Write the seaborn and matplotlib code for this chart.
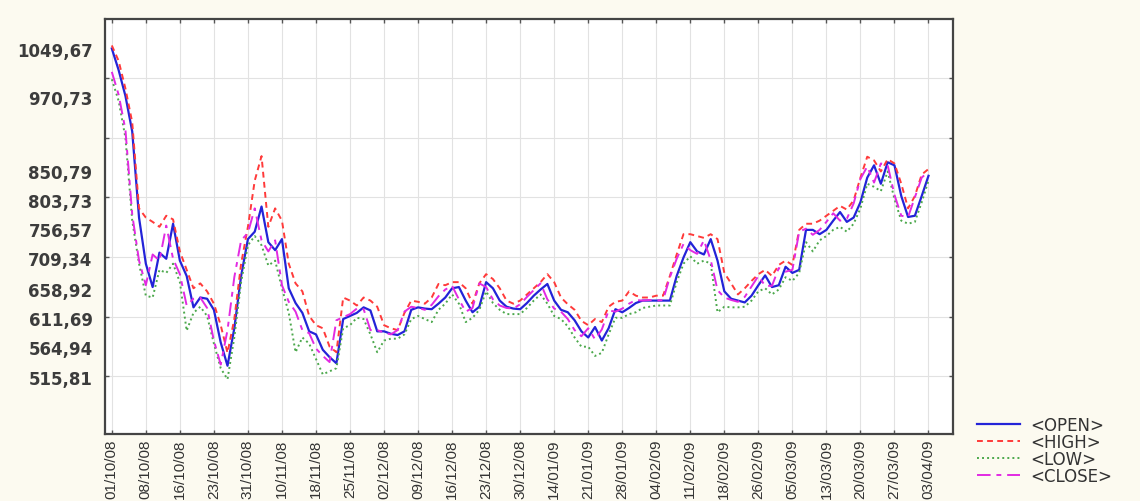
import matplotlib
matplotlib.use("Agg")
import matplotlib.pyplot as plt
import seaborn as sns
import pandas as pd
import numpy as np

# ---------------- data ----------------
open_vals = [1050, 1015, 973, 915, 775, 700, 662, 718, 708, 765,
             705, 680, 629, 645, 643, 625, 572, 534, 595, 680,
             740, 752, 793, 735, 722, 740, 660, 636, 620, 590,
             585, 560, 548, 538, 610, 615, 620, 629, 624, 590,
             590, 586, 584, 590, 625, 629, 627, 626, 635, 645,
             660, 662, 640, 621, 630, 670, 660, 640, 630, 627,
             626, 636, 648, 658, 667, 640, 625, 621, 608, 590,
             580, 597, 575, 595, 626, 621, 628, 636, 640, 640,
             640, 640, 640, 680, 710, 735, 720, 715, 740, 705,
             655, 643, 640, 637, 648, 665, 681, 662, 665, 695,
             685, 690, 755, 755, 748, 755, 770, 784, 768, 775,
             800, 840, 860, 830, 865, 860, 810, 776, 778, 810,
             843]

high_vals = [1055, 1030, 985, 930, 790, 775, 768, 760, 778, 772,
             720, 690, 660, 668, 655, 635, 600, 555, 610, 700,
             760, 835, 875, 760, 790, 770, 700, 668, 655, 615,
             600, 595, 565, 556, 645, 640, 632, 645, 640, 630,
             600, 595, 592, 620, 640, 638, 635, 645, 667, 665,
             670, 670, 660, 635, 668, 683, 675, 660, 640, 635,
             640, 650, 660, 670, 683, 670, 645, 634, 625, 607,
             600, 610, 605, 630, 638, 640, 655, 648, 645, 645,
             648, 648, 680, 715, 748, 748, 745, 742, 748, 740,
             685, 668, 650, 660, 672, 683, 690, 680, 698, 705,
             698, 755, 765, 765, 770, 778, 786, 794, 788, 803,
             840, 874, 868, 850, 870, 863, 830, 790, 810, 845,
             854]

low_vals = [1000, 965, 905, 770, 700, 648, 645, 690, 685, 700,
            670, 591, 620, 630, 615, 570, 530, 512, 580, 670,
            730, 745, 730, 697, 705, 660, 620, 556, 580, 570,
            545, 520, 525, 530, 595, 600, 612, 610, 585, 556,
            575, 578, 578, 585, 610, 615, 610, 605, 625, 635,
            650, 635, 605, 612, 625, 655, 636, 625, 618, 618,
            618, 628, 640, 650, 635, 615, 610, 598, 580, 565,
            565, 550, 555, 585, 612, 612, 618, 621, 628, 630,
            632, 632, 632, 670, 700, 712, 700, 705, 700, 621,
            630, 629, 629, 630, 640, 655, 660, 650, 658, 678,
            672, 685, 735, 720, 738, 745, 755, 760, 752, 765,
            790, 830, 825, 818, 850, 805, 770, 765, 768, 800,
            835]

close_vals = [1012, 975, 918, 780, 705, 665, 715, 705, 762, 708,
              683, 632, 643, 645, 628, 575, 536, 592, 678, 738,
              750, 790, 738, 720, 738, 665, 638, 622, 592, 587,
              562, 550, 540, 608, 613, 618, 627, 626, 592, 592,
              588, 585, 592, 622, 630, 628, 625, 633, 647, 658,
              664, 642, 622, 628, 668, 662, 642, 632, 628, 627,
              634, 646, 657, 668, 642, 627, 622, 610, 592, 582,
              595, 577, 593, 624, 622, 627, 635, 641, 640, 641,
              640, 641, 678, 708, 732, 722, 716, 738, 706, 657,
              645, 641, 638, 646, 663, 680, 664, 664, 693, 687,
              690, 752, 757, 747, 755, 768, 782, 770, 773, 798,
              838, 858, 832, 863, 860, 812, 778, 776, 808, 840,
              850]

date_labels = ["01/10/08", "08/10/08", "16/10/08", "23/10/08", "31/10/08",
               "10/11/08", "18/11/08", "25/11/08", "02/12/08", "09/12/08",
               "16/12/08", "23/12/08", "30/12/08", "14/01/09", "21/01/09",
               "28/01/09", "04/02/09", "11/02/09", "18/02/09", "26/02/09",
               "05/03/09", "13/03/09", "20/03/09", "27/03/09", "03/04/09"]

ytick_values = [1049.67, 970.73, 850.79, 803.73, 756.57, 709.34,
                658.92, 611.69, 564.94, 515.81]

series_names = ["<OPEN>", "<HIGH>", "<LOW>", "<CLOSE>"]

# ---------------- build long-form table ----------------
day = np.arange(len(open_vals))
df = pd.DataFrame({"day": day, "<OPEN>": open_vals, "<HIGH>": high_vals,
                   "<LOW>": low_vals, "<CLOSE>": close_vals})
long_df = df.melt(id_vars="day", var_name="series", value_name="value")

# ---------------- styling ----------------
bg = "#FCFAF0"
palette = {"<OPEN>": "#2323D8", "<HIGH>": "#FF3A3A",
           "<LOW>": "#4CA84C", "<CLOSE>": "#E22AE2"}
dashes = {"<OPEN>": "", "<HIGH>": (3, 2.2), "<LOW>": (1, 1.6),
          "<CLOSE>": (7, 3, 2.5, 3)}

fig = plt.figure(figsize=(11.4, 5.02), dpi=100, facecolor=bg)
ax = fig.add_axes([105 / 1140, 1 - 435 / 502, (953 - 105) / 1140, (435 - 20) / 502])
ax.set_facecolor("white")

sns.lineplot(data=long_df, x="day", y="value", hue="series", style="series",
             hue_order=series_names, style_order=series_names,
             palette=palette, dashes=dashes, linewidth=1.4, ax=ax,
             legend=True)

for line in ax.get_lines():
    if line.get_color() == palette["<OPEN>"]:
        line.set_linewidth(1.6)

ax.set_xlim(-1.0, 123.6)
ax.set_ylim(423, 1098)

# x axis
ax.set_xticks(np.arange(0, 5 * len(date_labels), 5))
ax.set_xticklabels(date_labels, rotation=90,
                   family=["Liberation Sans Narrow", "Liberation Sans", "DejaVu Sans"],
                   fontsize=11, color="#333333")
ax.tick_params(axis="x", which="major", direction="in", length=3, width=1,
               top=True, bottom=True, pad=3, color="#555555")
ax.xaxis.grid(True, which="major", color="#E2E2E2", linewidth=0.8)

# y axis: labels at values, grid at separate minor positions
ax.set_yticks(ytick_values)
ax.set_yticklabels([f"{v:.2f}".replace(".", ",") for v in ytick_values],
                   fontsize=12, fontweight="bold", color="#3C3C3C",
                   family="DejaVu Sans")
ax.tick_params(axis="y", which="major", length=0, pad=9)
ax.set_yticks([517, 614, 711, 808, 905, 1002], minor=True)
ax.tick_params(axis="y", which="minor", direction="in", length=3, width=1,
               left=True, right=True, color="#555555")
ax.yaxis.grid(False, which="major")
ax.yaxis.grid(True, which="minor", color="#E2E2E2", linewidth=0.8)

ax.set_xlabel("")
ax.set_ylabel("")
for side in ["left", "right", "top", "bottom"]:
    ax.spines[side].set_visible(True)
    ax.spines[side].set_color("#444444")
    ax.spines[side].set_linewidth(1.6)

# legend
handles, labels = ax.get_legend_handles_labels()
leg = ax.legend(handles, labels, loc="upper left",
                bbox_to_anchor=(970 / 1140, 1 - 410 / 502),
                bbox_transform=fig.transFigure, frameon=False,
                fontsize=12, handlelength=2.6, handletextpad=0.6,
                labelspacing=-0.05, borderaxespad=0)
for t in leg.get_texts():
    t.set_color("#333333")

fig.savefig("out.png", dpi=100, facecolor=bg)
